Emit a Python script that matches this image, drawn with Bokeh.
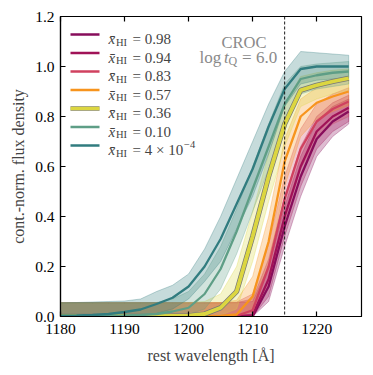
from bokeh.plotting import figure
from bokeh.models import (LinearAxis, FixedTicker, Span, Label, Arrow, Range1d,
                          NumeralTickFormatter, CustomLabelingPolicy)
from bokeh.embed import file_html
from bokeh.resources import INLINE

# ---------------- data ----------------
wavelength = [1180.0, 1182.5, 1185.0, 1187.5, 1190.0, 1192.5, 1195.0, 1197.5, 1200.0,
              1202.5, 1205.0, 1207.5, 1210.0, 1212.5, 1215.0, 1217.5, 1220.0, 1222.5, 1225.0]

xhi_labels = ["0.98", "0.94", "0.83", "0.57", "0.36", "0.10", "4 × 10"]

flux_098 = [0, 0, 0, 0, 0, 0, 0, 0, 0, 0, 0, 0, 0.0, 0.12, 0.36, 0.56, 0.71, 0.78, 0.82]
lo_098 = [0, 0, 0, 0, 0, 0, 0, 0, 0, 0, 0, 0, 0, 0.06, 0.28, 0.48, 0.64, 0.72, 0.77]
hi_098 = [0.055, 0.055, 0.055, 0.055, 0.055, 0.055, 0.055, 0.055, 0.055, 0.055, 0.055, 0.055,
          0.06, 0.20, 0.44, 0.64, 0.78, 0.84, 0.87]

flux_094 = [0, 0, 0, 0, 0, 0, 0, 0, 0, 0, 0, 0.001, 0.005, 0.15, 0.40, 0.60, 0.74, 0.80, 0.835]
lo_094 = [0, 0, 0, 0, 0, 0, 0, 0, 0, 0, 0, 0, 0, 0.08, 0.32, 0.52, 0.67, 0.74, 0.78]
hi_094 = [0.055, 0.055, 0.055, 0.055, 0.055, 0.055, 0.055, 0.055, 0.055, 0.055, 0.055, 0.056,
          0.07, 0.23, 0.48, 0.68, 0.80, 0.855, 0.885]

flux_083 = [0, 0, 0, 0, 0, 0, 0, 0, 0, 0, 0.001, 0.003, 0.025, 0.20, 0.47, 0.67, 0.78, 0.83, 0.86]
lo_083 = [0, 0, 0, 0, 0, 0, 0, 0, 0, 0, 0, 0, 0, 0.12, 0.38, 0.59, 0.71, 0.77, 0.80]
hi_083 = [0.055, 0.055, 0.055, 0.055, 0.055, 0.055, 0.055, 0.055, 0.055, 0.055, 0.055, 0.058,
          0.09, 0.29, 0.56, 0.75, 0.85, 0.89, 0.915]

flux_057 = [0, 0, 0, 0, 0, 0, 0, 0, 0, 0.001, 0.002, 0.008, 0.08, 0.30, 0.62, 0.80, 0.855, 0.88, 0.90]
lo_057 = [0, 0, 0, 0, 0, 0, 0, 0, 0, 0, 0, 0, 0.02, 0.20, 0.52, 0.72, 0.79, 0.82, 0.845]
hi_057 = [0.055, 0.055, 0.055, 0.055, 0.055, 0.055, 0.055, 0.055, 0.055, 0.055, 0.056, 0.065,
          0.16, 0.40, 0.71, 0.87, 0.915, 0.935, 0.95]

flux_036 = [0.001, 0.001, 0.001, 0.001, 0.001, 0.001, 0.001, 0.002, 0.003, 0.01, 0.035, 0.10,
            0.32, 0.56, 0.77, 0.905, 0.925, 0.94, 0.953]
lo_036 = [0, 0, 0, 0, 0, 0, 0, 0, 0, 0, 0.005, 0.03, 0.22, 0.46, 0.68, 0.84, 0.87, 0.89, 0.905]
hi_036 = [0.055, 0.055, 0.055, 0.055, 0.055, 0.055, 0.055, 0.055, 0.056, 0.06, 0.09, 0.20,
          0.42, 0.65, 0.85, 0.96, 0.975, 0.985, 0.99]

flux_010 = [0.002, 0.002, 0.003, 0.003, 0.004, 0.006, 0.01, 0.02, 0.035, 0.09, 0.19, 0.34,
            0.51, 0.68, 0.85, 0.95, 0.965, 0.975, 0.98]
lo_010 = [0, 0, 0, 0, 0, 0, 0, 0.002, 0.008, 0.03, 0.11, 0.25, 0.42, 0.59, 0.77, 0.89, 0.91, 0.92, 0.93]
hi_010 = [0.055, 0.055, 0.055, 0.055, 0.055, 0.055, 0.056, 0.07, 0.10, 0.17, 0.28, 0.43,
          0.60, 0.77, 0.93, 1.0, 1.01, 1.015, 1.02]

flux_4e4 = [0.003, 0.004, 0.006, 0.01, 0.018, 0.028, 0.05, 0.075, 0.12, 0.20, 0.31, 0.45,
            0.59, 0.76, 0.91, 0.99, 1.0, 1.0, 1.0]
lo_4e4 = [0, 0, 0, 0, 0, 0.003, 0.012, 0.03, 0.07, 0.14, 0.22, 0.35, 0.48, 0.65, 0.84, 0.93,
          0.945, 0.95, 0.955]
hi_4e4 = [0.055, 0.056, 0.058, 0.06, 0.062, 0.07, 0.10, 0.125, 0.17, 0.27, 0.40, 0.55, 0.70,
          0.85, 0.98, 1.06, 1.055, 1.05, 1.045]

colors = ["#870d5b", "#a01257", "#d0415f", "#f7941d", "#dcd640", "#5e9e86", "#317c7f"]

x_ticks = [1180, 1190, 1200, 1210, 1220]
y_ticks = [0.0, 0.2, 0.4, 0.6, 0.8, 1.0, 1.2]
lya_line = 1215.0

series = [
    (flux_098, lo_098, hi_098),
    (flux_094, lo_094, hi_094),
    (flux_083, lo_083, hi_083),
    (flux_057, lo_057, hi_057),
    (flux_036, lo_036, hi_036),
    (flux_010, lo_010, hi_010),
    (flux_4e4, lo_4e4, hi_4e4),
]

FONT = "Liberation Serif"
FS = "15.5px"
FS_LEG = "15px"

p = figure(frame_width=301, frame_height=300,
           min_border_left=60, min_border_right=8, min_border_top=16, min_border_bottom=54,
           x_range=Range1d(1180, 1227), y_range=Range1d(0, 1.2),
           output_backend="svg", toolbar_location=None)
p.background_fill_color = "white"
p.border_fill_color = "white"
p.outline_line_color = "black"
p.outline_line_width = 1.2
p.xgrid.visible = False
p.ygrid.visible = False

# bands + lines
for i, (f, lo, hi) in enumerate(series):
    c = colors[i]
    xs = wavelength + wavelength[::-1]
    ys = hi + lo[::-1]
    p.patch(xs, ys, fill_color=c, fill_alpha=0.28, line_color=c, line_alpha=0.3, line_width=1)
for i, (f, lo, hi) in enumerate(series):
    c = colors[i]
    if i == 4:
        p.line(wavelength, f, line_color="#777777", line_width=5.2)
        p.line(wavelength, f, line_color=c, line_width=3.8)
    else:
        p.line(wavelength, f, line_color=c, line_width=2.3)

p.add_layout(Span(location=lya_line, dimension="height", line_color="black",
                  line_width=0.9, line_dash="3 2"))

# axes
for ax in (p.xaxis[0], p.yaxis[0]):
    ax.major_tick_in = 5
    ax.major_tick_out = 0
    ax.minor_tick_line_color = None
    ax.major_label_text_font = FONT
    ax.major_label_text_font_size = FS
    ax.major_label_text_color = "black"
    ax.axis_label_text_font = FONT
    ax.axis_label_text_font_size = "16px"
    ax.axis_label_text_font_style = "normal"
    ax.axis_line_width = 1.2
    ax.major_tick_line_width = 1.2
p.xaxis.ticker = FixedTicker(ticks=x_ticks)
p.yaxis.ticker = FixedTicker(ticks=y_ticks)
p.yaxis.formatter = NumeralTickFormatter(format="0.0")
p.xaxis.axis_label = "rest wavelength [Å]"
p.yaxis.axis_label = "cont.-norm. flux density"
p.xaxis.major_label_standoff = 7
p.yaxis.major_label_standoff = 6
p.xaxis.axis_label_standoff = 10
p.yaxis.axis_label_standoff = 5

no_labels = CustomLabelingPolicy(code="""
try { indices.clear(); } catch (e) {
  for (const i of Array.from(indices)) { indices.unset(i); }
}
return indices;
""")

top = LinearAxis(ticker=FixedTicker(ticks=x_ticks), major_label_text_font_size="0px",
                 major_label_policy=no_labels,
                 major_tick_in=5, major_tick_out=0, minor_tick_line_color=None,
                 axis_line_color=None, major_label_standoff=0, major_tick_line_width=1.2)
right = LinearAxis(ticker=FixedTicker(ticks=y_ticks), major_label_text_font_size="0px",
                   major_label_policy=no_labels,
                   major_tick_in=5, major_tick_out=0, minor_tick_line_color=None,
                   axis_line_color=None, major_label_standoff=0, major_tick_line_width=1.2)
p.add_layout(top, "above")
p.add_layout(right, "right")

# legend (frame-relative screen units; frame left=0, bottom=0)
row_y = [282.0, 263.5, 245.0, 226.5, 208.0, 189.5, 171.0]
for i, lab in enumerate(xhi_labels):
    y = row_y[i]
    c = colors[i]
    if i == 4:
        p.add_layout(Arrow(end=None, x_start=10, y_start=y, x_end=39, y_end=y,
                           start_units="screen", end_units="screen",
                           line_color="#999999", line_width=5))
        p.add_layout(Arrow(end=None, x_start=10, y_start=y, x_end=39, y_end=y,
                           start_units="screen", end_units="screen",
                           line_color=c, line_width=3.5))
    else:
        p.add_layout(Arrow(end=None, x_start=10, y_start=y, x_end=39, y_end=y,
                           start_units="screen", end_units="screen",
                           line_color=c, line_width=2.3))
    base = y - 4.5
    p.add_layout(Label(x=48, y=base, x_units="screen", y_units="screen", text="x\u0304",
                       text_font=FONT, text_font_size=FS_LEG, text_font_style="italic",
                       text_baseline="alphabetic"))
    p.add_layout(Label(x=55.5, y=base - 3, x_units="screen", y_units="screen", text="HI",
                       text_font=FONT, text_font_size="10.5px",
                       text_baseline="alphabetic"))
    p.add_layout(Label(x=72, y=base, x_units="screen", y_units="screen", text="= " + lab,
                       text_font=FONT, text_font_size=FS_LEG, text_baseline="alphabetic"))
    if i == 6:
        p.add_layout(Label(x=123.5, y=base + 5.5, x_units="screen", y_units="screen",
                           text="\u22124", text_font=FONT, text_font_size="10.5px",
                           text_baseline="alphabetic"))

# annotation text
GRAY = "#8a8a8a"
p.add_layout(Label(x=183.5, y=273.7, x_units="screen", y_units="screen", text="CROC",
                   text_font=FONT, text_font_size="16.5px", text_color=GRAY,
                   text_align="center", text_baseline="alphabetic"))
p.add_layout(Label(x=139, y=258.7, x_units="screen", y_units="screen", text="log",
                   text_font=FONT, text_font_size="17px", text_color=GRAY,
                   text_baseline="alphabetic"))
p.add_layout(Label(x=163.5, y=258.7, x_units="screen", y_units="screen", text="t",
                   text_font=FONT, text_font_size="17px", text_color=GRAY,
                   text_font_style="italic", text_baseline="alphabetic"))
p.add_layout(Label(x=168, y=255.2, x_units="screen", y_units="screen", text="Q",
                   text_font=FONT, text_font_size="12px", text_color=GRAY,
                   text_baseline="alphabetic"))
p.add_layout(Label(x=181.5, y=258.7, x_units="screen", y_units="screen", text="=",
                   text_font=FONT, text_font_size="17px", text_color=GRAY,
                   text_baseline="alphabetic"))
p.add_layout(Label(x=195.5, y=258.7, x_units="screen", y_units="screen", text="6.0",
                   text_font=FONT, text_font_size="17px", text_color=GRAY,
                   text_baseline="alphabetic"))

open("out.html", "w").write(file_html(p, INLINE))
